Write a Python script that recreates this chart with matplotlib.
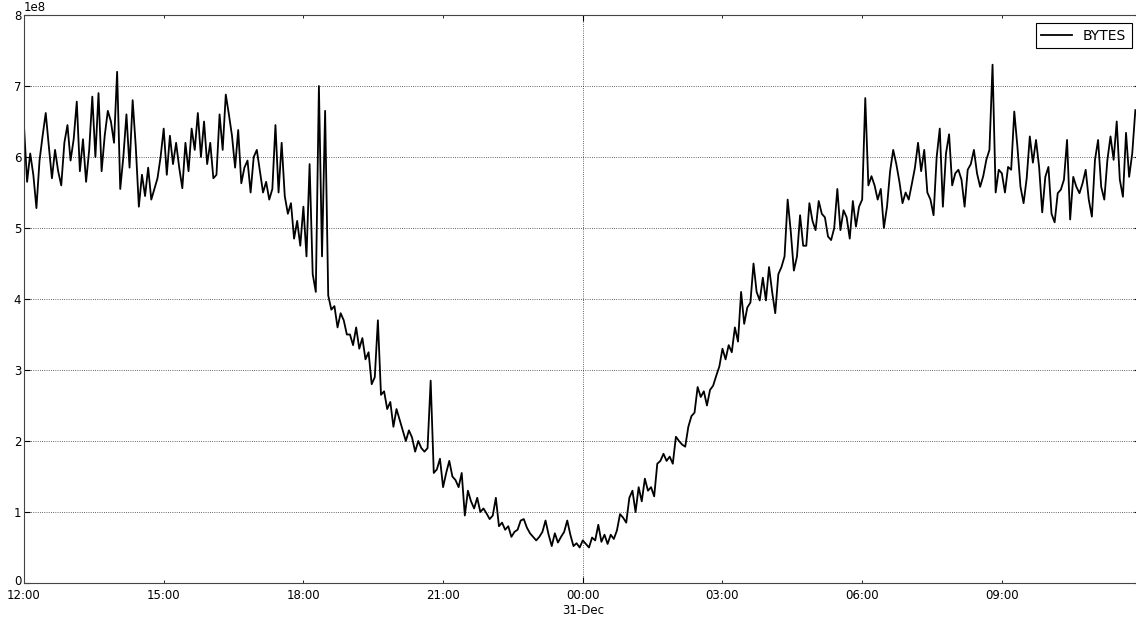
# traffic volume over one day, 4 minute samples
import matplotlib
matplotlib.use('Agg')
import matplotlib.pyplot as plt
import matplotlib.dates as mdates
import matplotlib.transforms as mtransforms
import numpy as np
import pandas as pd

# bytes per sample, in units of 1e8, one row per hour starting 12:00 on 30-Dec
hour_rows = [
    [6.43, 5.65, 6.05, 5.75, 5.28, 5.95, 6.3, 6.62, 6.15, 5.7, 6.1, 5.8, 5.6, 6.2, 6.45],
    [5.95, 6.25, 6.78, 5.8, 6.25, 5.65, 6.1, 6.85, 6.0, 6.9, 5.8, 6.3, 6.65, 6.5, 6.2],
    [7.2, 5.55, 6.0, 6.6, 5.85, 6.8, 6.15, 5.3, 5.75, 5.45, 5.85, 5.4, 5.55, 5.7, 6.0],
    [6.4, 5.75, 6.3, 5.9, 6.2, 5.85, 5.56, 6.2, 5.8, 6.4, 6.1, 6.62, 6.0, 6.5, 5.9],
    [6.2, 5.7, 5.75, 6.6, 6.1, 6.88, 6.6, 6.3, 5.85, 6.38, 5.63, 5.85, 5.95, 5.5, 6.0],
    [6.1, 5.8, 5.5, 5.65, 5.4, 5.55, 6.45, 5.5, 6.2, 5.45, 5.2, 5.35, 4.85, 5.1, 4.75],
    [5.3, 4.6, 5.9, 4.35, 4.1, 7.0, 4.6, 6.65, 4.05, 3.85, 3.9, 3.6, 3.8, 3.7, 3.5],
    [3.5, 3.35, 3.6, 3.3, 3.45, 3.15, 3.25, 2.8, 2.9, 3.7, 2.65, 2.7, 2.45, 2.55, 2.2],
    [2.45, 2.3, 2.15, 2.0, 2.15, 2.05, 1.85, 2.0, 1.9, 1.85, 1.9, 2.85, 1.55, 1.6, 1.75],
    [1.35, 1.55, 1.72, 1.5, 1.45, 1.35, 1.55, 0.95, 1.3, 1.15, 1.05, 1.2, 1.0, 1.05, 0.98],
    [0.9, 0.95, 1.2, 0.8, 0.85, 0.75, 0.8, 0.65, 0.72, 0.75, 0.88, 0.9, 0.78, 0.7, 0.65],
    [0.6, 0.65, 0.72, 0.88, 0.68, 0.52, 0.7, 0.57, 0.65, 0.72, 0.88, 0.68, 0.52, 0.56, 0.5],
    [0.6, 0.55, 0.5, 0.64, 0.6, 0.82, 0.58, 0.68, 0.55, 0.68, 0.62, 0.74, 0.97, 0.92, 0.85],
    [1.2, 1.3, 1.0, 1.35, 1.15, 1.47, 1.3, 1.35, 1.22, 1.68, 1.72, 1.82, 1.72, 1.78, 1.68],
    [2.06, 2.0, 1.95, 1.92, 2.2, 2.35, 2.4, 2.76, 2.62, 2.7, 2.5, 2.72, 2.78, 2.92, 3.05],
    [3.3, 3.15, 3.35, 3.25, 3.6, 3.4, 4.1, 3.65, 3.88, 3.95, 4.5, 4.1, 3.98, 4.3, 3.98],
    [4.45, 4.1, 3.8, 4.35, 4.45, 4.6, 5.4, 4.95, 4.4, 4.6, 5.18, 4.75, 4.75, 5.35, 5.1],
    [4.97, 5.38, 5.2, 5.15, 4.88, 4.83, 5.0, 5.55, 4.97, 5.25, 5.15, 4.85, 5.38, 5.02, 5.3],
    [5.4, 6.83, 5.6, 5.73, 5.6, 5.4, 5.55, 5.0, 5.3, 5.8, 6.1, 5.9, 5.65, 5.35, 5.5],
    [5.4, 5.62, 5.85, 6.2, 5.8, 6.1, 5.5, 5.4, 5.18, 6.0, 6.4, 5.3, 6.05, 6.32, 5.6],
    [5.77, 5.82, 5.68, 5.3, 5.82, 5.9, 6.1, 5.77, 5.58, 5.73, 5.96, 6.1, 7.3, 5.5, 5.82],
    [5.77, 5.5, 5.86, 5.82, 6.64, 6.15, 5.58, 5.35, 5.7, 6.29, 5.92, 6.24, 5.86, 5.22, 5.72],
    [5.86, 5.2, 5.08, 5.49, 5.54, 5.68, 6.24, 5.12, 5.72, 5.58, 5.49, 5.63, 5.82, 5.4, 5.16],
    [5.96, 6.24, 5.58, 5.4, 5.96, 6.29, 5.96, 6.5, 5.68, 5.44, 6.34, 5.72, 6.05, 6.66],
]
bytes_e8 = np.concatenate([np.array(r) for r in hour_rows])
times = pd.date_range('2013-12-30 12:00', periods=len(bytes_e8), freq='4min')
series_label = 'BYTES'

plt.rcParams['font.family'] = 'DejaVu Sans'
plt.rcParams['font.size'] = 8.5

fig = plt.figure(figsize=(11.36, 6.17), dpi=100)
ax = fig.add_axes([24 / 1136, 34 / 617, 1116 / 1136, 568 / 617])

ax.plot(times.to_pydatetime(), bytes_e8 * 1e8, color='k', lw=1.3, label=series_label)

ax.set_xlim(times[0].to_pydatetime(), pd.Timestamp('2013-12-31 11:58').to_pydatetime())
ax.set_ylim(0, 8e8)

# major tick at midnight (with date), minor ticks every 3 hours
ax.xaxis.set_major_locator(mdates.HourLocator(byhour=[0]))
ax.xaxis.set_major_formatter(mdates.DateFormatter('%H:%M\n%d-%b'))
ax.xaxis.set_minor_locator(mdates.HourLocator(byhour=[3, 6, 9, 12, 15, 18, 21]))
ax.xaxis.set_minor_formatter(mdates.DateFormatter('%H:%M'))
ax.set_yticks(np.arange(0, 9) * 1e8)

ax.tick_params(which='both', direction='in', top=True, right=True)
ax.tick_params(axis='x', which='both', pad=4.5)
ax.tick_params(axis='y', pad=2)
ax.tick_params(which='major', length=4)
ax.tick_params(which='minor', length=2)
ax.grid(True, which='major', color='k', linestyle=':', linewidth=0.6, alpha=0.8)

# the "0" label sits a little above the corner so it clears 12:00
zero_lab = ax.get_yticklabels()[0]
zero_lab.set_transform(zero_lab.get_transform() +
                       mtransforms.ScaledTranslation(0, 3 / 100, fig.dpi_scale_trans))

for sp in ax.spines.values():
    sp.set_color('#444444')

leg = ax.legend(loc='upper right', fancybox=False, framealpha=1, edgecolor='k',
                fontsize=10, handlelength=2.2, borderaxespad=0.6)
leg.get_frame().set_linewidth(0.8)

plt.savefig('out.png', dpi=100)
